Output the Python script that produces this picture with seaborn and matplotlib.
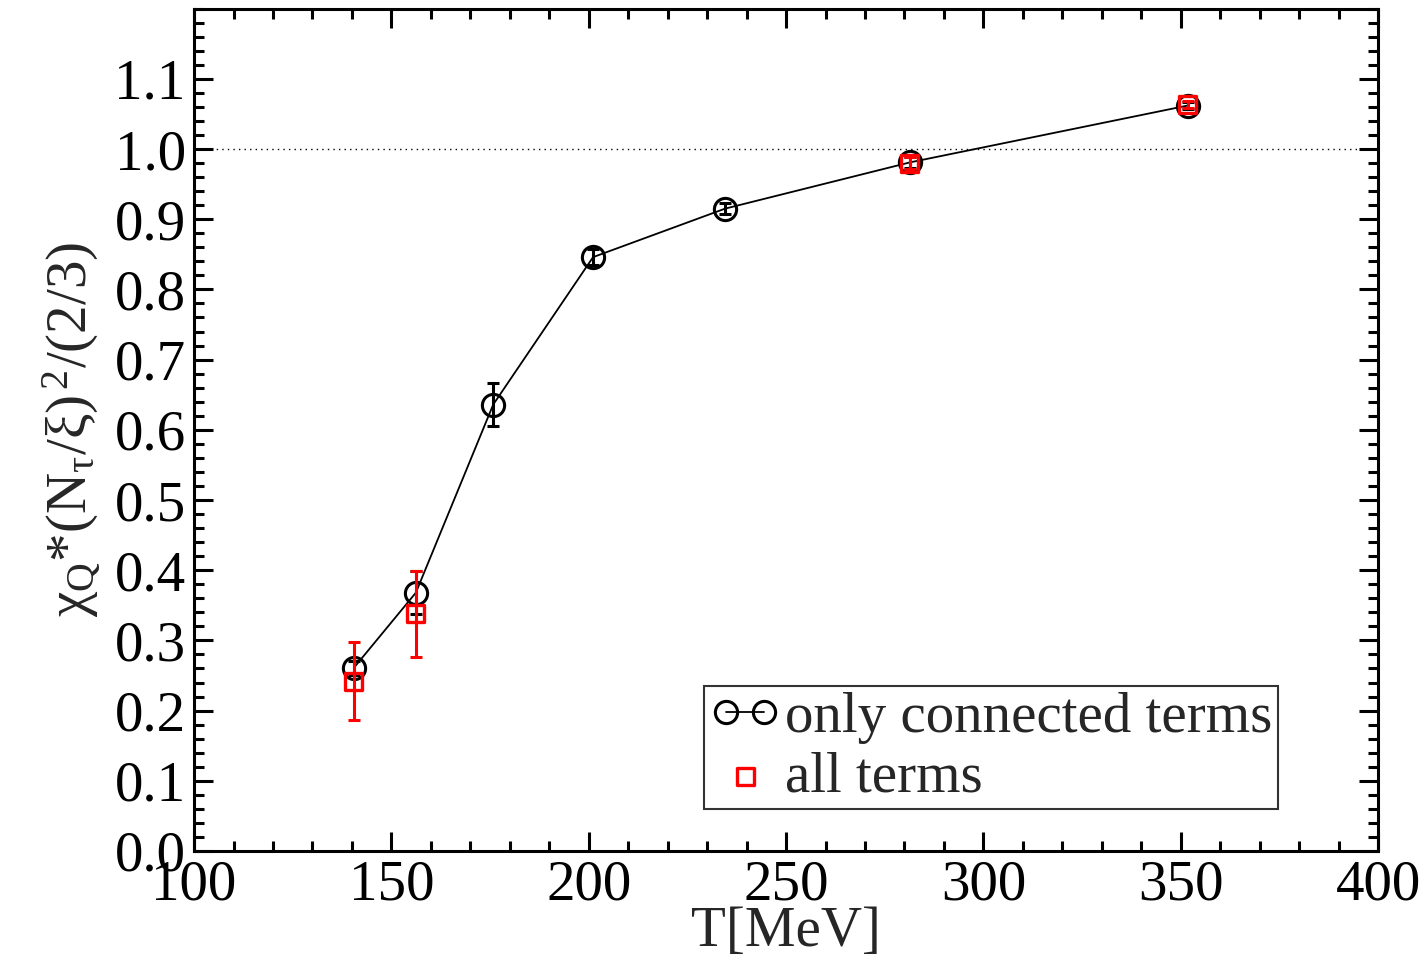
import numpy as np
import pandas as pd
import matplotlib
matplotlib.use("Agg")
import matplotlib.pyplot as plt
import matplotlib.ticker as ticker
import seaborn as sns

# ---------------------------------------------------------------------------
# Data
# ---------------------------------------------------------------------------

T_conn = [140.5, 156.2, 175.8, 201.1, 234.5, 281.4, 351.8]
chi_conn = [0.261, 0.368, 0.636, 0.846, 0.915, 0.981, 1.062]
err_conn = [0.010, 0.031, 0.031, 0.011, 0.008, 0.008, 0.005]

T_all = [140.5, 156.2, 281.4, 351.8]
chi_all = [0.242, 0.338, 0.980, 1.063]
err_all = [0.056, 0.061, 0.008, 0.005]

X_TICKS = [100, 150, 200, 250, 300, 350, 400]
Y_TICKS = [0.0, 0.1, 0.2, 0.3, 0.4, 0.5, 0.6, 0.7, 0.8, 0.9, 1.0, 1.1]

# ---------------------------------------------------------------------------
# Style
# ---------------------------------------------------------------------------

sns.set_theme(style="ticks")
plt.rcParams["font.family"] = ["Liberation Serif", "DejaVu Serif"]
plt.rcParams["mathtext.fontset"] = "custom"
plt.rcParams["mathtext.rm"] = "Liberation Serif"
plt.rcParams["mathtext.it"] = "Liberation Serif:italic"
plt.rcParams["axes.linewidth"] = 2.2
plt.rcParams["xtick.direction"] = "in"
plt.rcParams["ytick.direction"] = "in"

df_conn = pd.DataFrame({"T": T_conn, "chi": chi_conn, "err": err_conn})
df_all = pd.DataFrame({"T": T_all, "chi": chi_all, "err": err_all})

fig = plt.figure(figsize=(14.27, 9.61), dpi=100)
ax = fig.add_axes([0.136, 0.1145, 0.8297, 0.8765])

# reference line at 1
ax.axhline(1.0, color="black", lw=1.0, ls=(0, (1, 3)), zorder=1)

# connected terms: line + open circles
sns.lineplot(data=df_conn, x="T", y="chi", ax=ax, color="black", lw=1.3,
             marker="o", markersize=16, markerfacecolor="none",
             markeredgecolor="black", markeredgewidth=2.2,
             label="only connected terms", zorder=3)
ax.errorbar(df_conn["T"], df_conn["chi"], yerr=df_conn["err"], fmt="none",
            ecolor="black", elinewidth=2.2, capsize=4, capthick=2.2, zorder=3)

# all terms: open red squares
ax.errorbar(df_all["T"], df_all["chi"], yerr=df_all["err"], fmt="none",
            ecolor="red", elinewidth=2.2, capsize=4, capthick=2.2, zorder=4)
sns.scatterplot(data=df_all, x="T", y="chi", ax=ax, marker="s", s=150,
                facecolor="none", edgecolor="red", linewidth=2.4,
                label="all terms", zorder=5)

ax.set_xlim(100, 400)
ax.set_ylim(0, 1.2)
ax.set_xticks(X_TICKS)
ax.set_yticks(Y_TICKS)
ax.set_yticklabels([f"{v:.1f}" for v in Y_TICKS])
ax.xaxis.set_minor_locator(ticker.MultipleLocator(10))
ax.yaxis.set_minor_locator(ticker.MultipleLocator(0.02))
ax.tick_params(which="both", top=True, right=True, width=2.2,
               labelsize=41, colors="black", pad=6)
ax.tick_params(which="major", length=14)
ax.tick_params(which="minor", length=7)
for s in ax.spines.values():
    s.set_color("black")

ax.set_xlabel("T[MeV]", fontsize=41, labelpad=-4)
ax.set_ylabel(r"χ$_{\mathrm{Q}}$*(N$_{\mathrm{τ}}$/ξ)$^{\,\mathrm{2}}$/(2/3)",
              fontsize=41, labelpad=8)

leg = ax.legend(loc="lower right", bbox_to_anchor=(0.9155, 0.05),
                borderaxespad=0, fontsize=41, frameon=True, fancybox=False,
                numpoints=2, handlelength=1.26, handletextpad=0.07,
                borderpad=0.1, labelspacing=0.13)
leg.get_frame().set_edgecolor("black")
leg.get_frame().set_linewidth(1.5)

plt.savefig("out.png", dpi=100)
plt.close()
